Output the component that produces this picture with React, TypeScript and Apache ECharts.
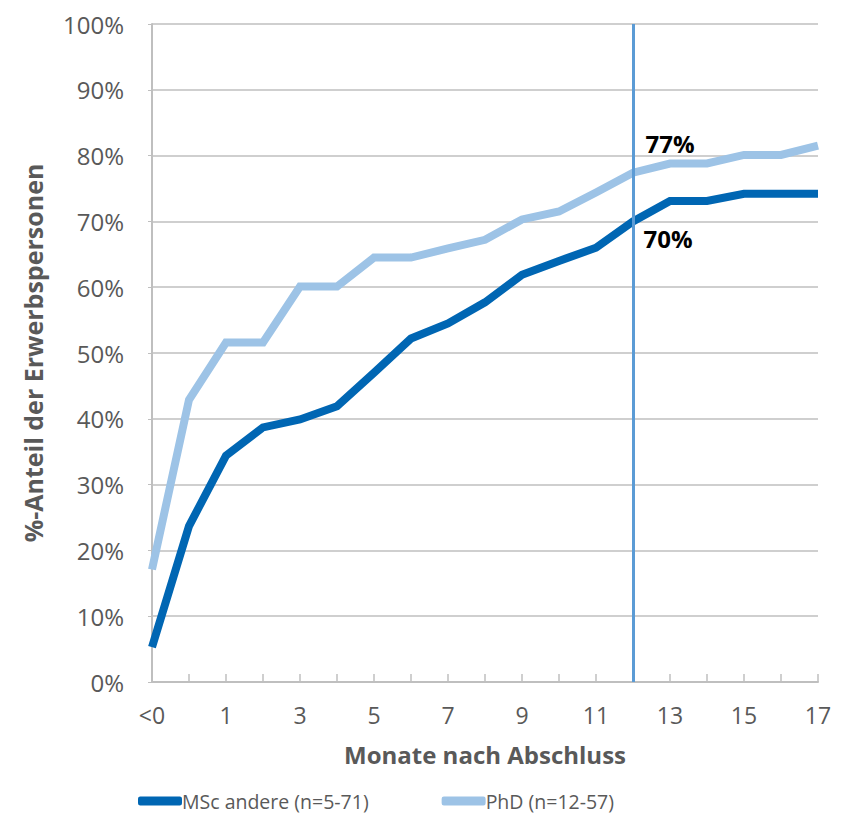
import React, { useEffect, useRef } from "react";
import * as echarts from "echarts";

const categories = ["<0", "0", "1", "2", "3", "4", "5", "6", "7", "8", "9", "10", "11", "12", "13", "14", "15", "16", "17"];
const mscValues = [5.3, 23.7, 34.4, 38.7, 39.9, 41.9, 47.0, 52.2, 54.5, 57.7, 61.9, 64.0, 66.0, 70.0, 73.1, 73.1, 74.2, 74.2, 74.2];
const phdValues = [17.1, 42.9, 51.6, 51.6, 60.1, 60.1, 64.5, 64.5, 65.9, 67.2, 70.3, 71.5, 74.4, 77.4, 78.8, 78.8, 80.1, 80.1, 81.5];
const seriesNames = ["MSc andere (n=5-71)", "PhD (n=12-57)"];
const markerCategory = "12";
const yTicks = { min: 0, max: 100, interval: 10 };

export default function App() {
  const ref = useRef<HTMLDivElement>(null);
  useEffect(() => {
    if (!ref.current) return;
    const chart = echarts.init(ref.current, null, { renderer: "svg" });
    const markerIdx = categories.indexOf(markerCategory);
    chart.setOption({
      animation: false,
      backgroundColor: "#ffffff",
      grid: { left: 152, right: 41, top: 24, bottom: 135, containLabel: false },
      legend: {
        bottom: 1,
        left: 133,
        itemWidth: 44,
        itemHeight: 9,
        itemGap: 73,
        icon: "roundRect",
        textStyle: { fontFamily: "Open Sans", fontSize: 19.5, color: "#595959", padding: [0, 0, 0, -5] },
        data: seriesNames,
      },
      xAxis: {
        type: "category",
        data: categories,
        boundaryGap: false,
        name: "Monate nach Abschluss",
        nameLocation: "middle",
        nameGap: 60,
        nameTextStyle: { fontFamily: "Open Sans", fontWeight: "bold", fontSize: 24, color: "#595959" },
        axisLine: { lineStyle: { color: "#bfbfbf", width: 2 } },
        axisTick: { show: true, inside: true, length: 8, interval: 0, lineStyle: { color: "#bfbfbf", width: 1.5 } },
        axisLabel: { interval: 1, margin: 21, fontFamily: "Open Sans", fontSize: 23, color: "#595959" },
        splitLine: { show: false },
      },
      yAxis: {
        type: "value",
        min: yTicks.min,
        max: yTicks.max,
        interval: yTicks.interval,
        name: "%-Anteil der Erwerbspersonen",
        nameLocation: "middle",
        nameGap: 107,
        nameTextStyle: { fontFamily: "Open Sans", fontWeight: "bold", fontSize: 25, color: "#595959" },
        axisLine: { show: true, lineStyle: { color: "#bfbfbf", width: 2 } },
        axisTick: { show: true, length: 4, lineStyle: { color: "#bfbfbf" } },
        axisLabel: { formatter: "{value}%", margin: 28, fontFamily: "Open Sans", fontSize: 24, color: "#595959" },
        splitLine: { lineStyle: { color: "#bfbfbf", width: 1.5 } },
      },
      series: [
        {
          name: seriesNames[0],
          type: "line",
          data: mscValues,
          showSymbol: false,
          symbol: "none",
          color: "#0066b3",
          lineStyle: { width: 8, color: "#0066b3", join: "miter", cap: "butt" },
          markPoint: {
            symbol: "circle",
            symbolSize: 1,
            itemStyle: { color: "rgba(0,0,0,0)" },
            data: [
              {
                coord: [markerCategory, mscValues[markerIdx]],
                label: {
                  show: true,
                  formatter: Math.round(mscValues[markerIdx]) + "%",
                  position: "bottom",
                  offset: [35, 0],
                  fontFamily: "Open Sans",
                  fontWeight: "bold",
                  fontSize: 24,
                  color: "#000000",
                },
              },
            ],
          },
        },
        {
          name: seriesNames[1],
          type: "line",
          data: phdValues,
          showSymbol: false,
          symbol: "none",
          color: "#9dc3e6",
          lineStyle: { width: 8, color: "#9dc3e6", join: "miter", cap: "butt" },
          markPoint: {
            symbol: "circle",
            symbolSize: 1,
            itemStyle: { color: "rgba(0,0,0,0)" },
            data: [
              {
                coord: [markerCategory, phdValues[markerIdx]],
                label: {
                  show: true,
                  formatter: Math.round(phdValues[markerIdx]) + "%",
                  position: "top",
                  offset: [37, -12],
                  fontFamily: "Open Sans",
                  fontWeight: "bold",
                  fontSize: 24,
                  color: "#000000",
                },
              },
            ],
          },
          markLine: {
            silent: true,
            symbol: "none",
            label: { show: false },
            lineStyle: { color: "#5b9bd5", width: 3, type: "solid" },
            data: [{ xAxis: markerCategory }],
          },
        },
      ],
    });
    return () => chart.dispose();
  }, []);
  return <div ref={ref} style={{ width: 859, height: 817, position: "absolute", left: 0, top: 0 }} />;
}
